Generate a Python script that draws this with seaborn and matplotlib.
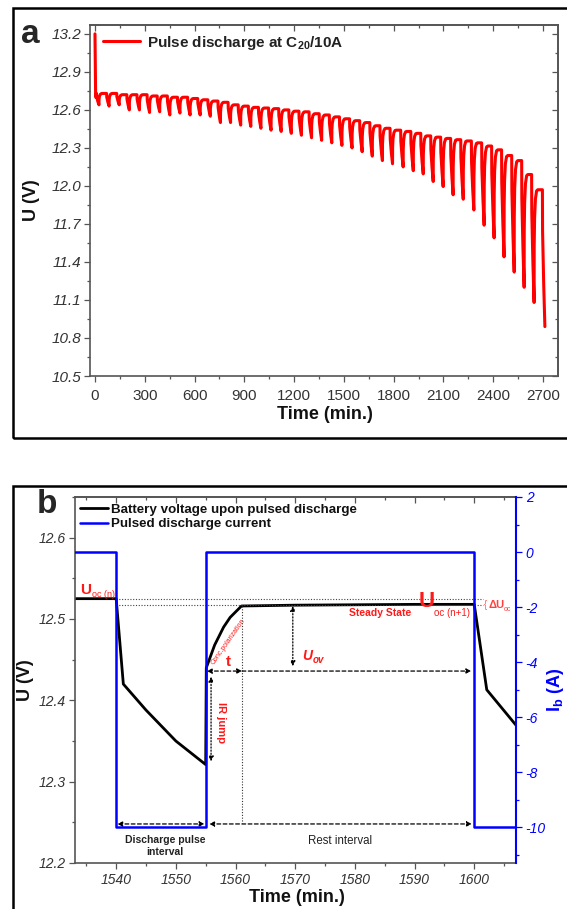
import numpy as np
import pandas as pd
import matplotlib
matplotlib.use("Agg")
import matplotlib.pyplot as plt
import seaborn as sns
from matplotlib.patches import Rectangle
from matplotlib.lines import Line2D
from matplotlib.ticker import MultipleLocator, NullFormatter

# ---------------- Panel a data ----------------
a_start_time = [0.0, 4.0]
a_start_volt = [13.2, 12.70]
pulse_dip_time = [24, 85, 146, 207, 268, 329, 390, 451, 512, 573,
                  634, 695, 756, 817, 878, 939, 1000, 1061, 1122, 1183,
                  1244, 1305, 1366, 1427, 1488, 1549, 1610, 1671, 1732, 1793,
                  1857, 1918, 1978, 2038, 2098, 2158, 2219, 2283, 2345, 2405,
                  2465, 2526, 2586, 2646, 2711]
pulse_top_volt = [12.73, 12.73, 12.73, 12.72, 12.72, 12.72, 12.71, 12.71, 12.70, 12.70,
                  12.69, 12.68, 12.67, 12.66, 12.64, 12.63, 12.62, 12.615, 12.61, 12.60,
                  12.59, 12.585, 12.57, 12.56, 12.545, 12.53, 12.515, 12.50, 12.475, 12.455,
                  12.44, 12.43, 12.415, 12.395, 12.385, 12.375, 12.365, 12.355, 12.34, 12.315,
                  12.285, 12.24, 12.20, 12.09, 11.97]
pulse_dip_volt = [12.64, 12.63, 12.64, 12.60, 12.60, 12.58, 12.585, 12.56, 12.575, 12.56,
                  12.56, 12.55, 12.50, 12.50, 12.48, 12.47, 12.455, 12.44, 12.43, 12.415,
                  12.40, 12.38, 12.36, 12.34, 12.32, 12.30, 12.27, 12.235, 12.20, 12.175,
                  12.15, 12.12, 12.095, 12.035, 11.995, 11.93, 11.895, 11.81, 11.69, 11.59,
                  11.44, 11.32, 11.20, 11.08, 10.89]
a_xticks = [0, 300, 600, 900, 1200, 1500, 1800, 2100, 2400, 2700]
a_yticks = [10.5, 10.8, 11.1, 11.4, 11.7, 12.0, 12.3, 12.6, 12.9, 13.2]
a_legend = "Pulse discharge at C$_{20}$/10A"

# ---------------- Panel b data ----------------
volt_time = [1533.1, 1540.0, 1541.2, 1545.0, 1550.0, 1555.0, 1555.1, 1556.5, 1558.0,
             1559.1, 1561.0, 1570.0, 1590.0, 1600.0, 1602.1, 1607.5]
volt_value = [12.525, 12.525, 12.420, 12.388, 12.350, 12.321, 12.440, 12.468, 12.490,
              12.502, 12.516, 12.517, 12.518, 12.518, 12.413, 12.365]
curr_time = [1533.1, 1540.0, 1540.0, 1555.0, 1555.0, 1600.0, 1600.0, 1608.0]
curr_value = [0, 0, -10, -10, 0, 0, -10, -10]
b_xticks = [1540, 1550, 1560, 1570, 1580, 1590, 1600]
b_yticks = [12.2, 12.3, 12.4, 12.5, 12.6]
b_y2ticks = [-10, -8, -6, -4, -2, 0, 2]
b_legend = ["Battery voltage upon pulsed discharge", "Pulsed discharge current"]

# ---------------- build the pulse waveform ----------------
ta = list(a_start_time)
va = list(a_start_volt)
n = len(pulse_dip_time)
for i in range(n):
    td, top, dip = pulse_dip_time[i], pulse_top_volt[i], pulse_dip_volt[i]
    ts = td - 15
    d = top - dip
    ta += [ts, ts + 1.0, ts + 8.0, td]
    va += [top, top - 0.3 * d, top - 0.7 * d, dip]
    if i + 1 < n:
        nxt = pulse_top_volt[i + 1]
        r = nxt - dip
        ta += [td + 0.5, td + 3.0, td + 8.0, td + 15.0, td + 22.0]
        va += [dip + 0.5 * r, dip + 0.75 * r, dip + 0.92 * r, dip + 0.99 * r, nxt]
df_a = pd.DataFrame({"t": ta, "U": va})
df_bv = pd.DataFrame({"t": volt_time, "U": volt_value})
df_bi = pd.DataFrame({"t": curr_time, "I": curr_value})

# ---------------- style ----------------
sns.set_theme(style="ticks")
plt.rcParams["font.family"] = ["Liberation Sans", "DejaVu Sans"]
plt.rcParams["mathtext.fontset"] = "custom"
plt.rcParams["mathtext.rm"] = "Liberation Sans:bold"
plt.rcParams["mathtext.default"] = "rm"

W, H = 567, 909
fig = plt.figure(figsize=(W / 100, H / 100), dpi=100)

def fx(x):
    return x / W

def fy(y):
    return 1 - y / H

SPC = "#555555"
LBC = "#333333"

# frames
fig.patches.append(Rectangle((fx(13), fy(438)), fx(W + 20) - fx(13), fy(8) - fy(438),
                             transform=fig.transFigure, fill=False, lw=1.8, ec="black"))
fig.patches.append(Rectangle((fx(13), fy(915)), fx(W + 20) - fx(13), fy(486) - fy(915),
                             transform=fig.transFigure, fill=False, lw=1.8, ec="black"))

# ================= Panel a =================
axa = fig.add_axes([fx(90), fy(376), fx(558) - fx(90), fy(25) - fy(376)])
sns.lineplot(data=df_a, x="t", y="U", ax=axa, color="#ff0000", lw=2.2,
             sort=False, estimator=None, legend=False)
axa.set_xlim(-30, 2790)
axa.set_ylim(10.5, 13.27)
axa.set_xticks(a_xticks)
axa.set_yticks(a_yticks)
axa.xaxis.set_minor_locator(MultipleLocator(150))
axa.yaxis.set_minor_locator(MultipleLocator(0.15))
axa.set_yticklabels([f"{v:.1f}" for v in a_yticks], fontstyle="italic")
axa.set_xlabel("")
axa.set_ylabel("")
for s in axa.spines.values():
    s.set_color(SPC)
    s.set_linewidth(1.2)
axa.tick_params(which="major", direction="out", length=4, width=0.9, color=SPC,
                labelcolor=LBC, labelsize=11, pad=2)
axa.tick_params(axis="x", which="major", pad=5)
axa.tick_params(which="minor", direction="out", length=2.5, width=0.9, color=SPC)
sec_top = axa.secondary_xaxis("top")
sec_top.set_xticks(a_xticks)
sec_top.xaxis.set_minor_locator(MultipleLocator(150))
sec_top.xaxis.set_major_formatter(NullFormatter())
sec_top.tick_params(which="major", direction="in", length=4, width=0.9, color=SPC)
sec_top.tick_params(which="minor", direction="in", length=2.5, width=0.9, color=SPC)
sec_top.spines["top"].set_color(SPC)
sec_right = axa.secondary_yaxis("right")
sec_right.set_yticks(a_yticks)
sec_right.yaxis.set_minor_locator(MultipleLocator(0.15))
sec_right.yaxis.set_major_formatter(NullFormatter())
sec_right.tick_params(which="major", direction="in", length=4, width=0.9, color=SPC)
sec_right.tick_params(which="minor", direction="in", length=2.5, width=0.9, color=SPC)
sec_right.spines["right"].set_color(SPC)

leg = axa.legend([Line2D([0], [0], color="#ff0000", lw=2.2)], [a_legend],
                 loc="upper left", bbox_to_anchor=(0.028, 0.975), frameon=False,
                 borderpad=0, borderaxespad=0, handlelength=2.4, handletextpad=0.45,
                 prop={"weight": "bold", "size": 11})
for t in leg.get_texts():
    t.set_color("#222222")

fig.text(fx(21), fy(43), "a", fontsize=24, fontweight="bold", ha="left", va="baseline")
fig.text(fx(32), fy(200), "U (V)", fontsize=13, fontweight="bold", rotation=90,
         ha="center", va="center", color="#111111")
fig.text(fx(325), fy(415), "Time (min.)", fontsize=13, fontweight="bold",
         ha="center", va="center", color="#111111")

# ================= Panel b =================
axb = fig.add_axes([fx(75), fy(863), fx(516) - fx(75), fy(497) - fy(863)])
sns.lineplot(data=df_bv, x="t", y="U", ax=axb, color="black", lw=2.0,
             sort=False, estimator=None, legend=False)
axb.set_xlim(1533.1, 1607)
axb.set_ylim(12.2, 12.65)
axb.set_xticks(b_xticks)
axb.set_yticks(b_yticks)
axb.xaxis.set_minor_locator(MultipleLocator(5))
axb.yaxis.set_minor_locator(MultipleLocator(0.05))
axb.set_xticklabels([str(v) for v in b_xticks], fontstyle="italic")
axb.set_yticklabels([f"{v:.1f}" for v in b_yticks], fontstyle="italic")
axb.set_xlabel("")
axb.set_ylabel("")
for s in axb.spines.values():
    s.set_color(SPC)
    s.set_linewidth(1.2)
axb.tick_params(which="major", direction="out", length=4, width=0.9, color=SPC,
                labelcolor=LBC, labelsize=10, pad=3)
axb.tick_params(which="minor", direction="out", length=2.5, width=0.9, color=SPC)
secb_top = axb.secondary_xaxis("top")
secb_top.set_xticks(b_xticks)
secb_top.xaxis.set_minor_locator(MultipleLocator(5))
secb_top.xaxis.set_major_formatter(NullFormatter())
secb_top.tick_params(which="major", direction="in", length=4, width=0.9, color=SPC)
secb_top.tick_params(which="minor", direction="in", length=2.5, width=0.9, color=SPC)
secb_top.spines["top"].set_color(SPC)

ax2 = axb.twinx()
sns.lineplot(data=df_bi, x="t", y="I", ax=ax2, color="#0000ff", lw=1.8,
             sort=False, estimator=None, legend=False)
ax2.set_ylim(-11.3, 2)
ax2.set_yticks(b_y2ticks)
ax2.yaxis.set_minor_locator(MultipleLocator(1))
ax2.set_yticklabels([str(v) for v in b_y2ticks], fontstyle="italic")
ax2.set_ylabel("")
ax2.set_xlabel("")
ax2.spines["right"].set_color("#0000ff")
ax2.spines["right"].set_linewidth(1.5)
ax2.spines["left"].set_visible(False)
ax2.spines["top"].set_visible(False)
ax2.spines["bottom"].set_visible(False)
ax2.tick_params(axis="y", which="major", direction="out", length=4, width=0.9,
                color="#0000ff", labelcolor="#0000ff", labelsize=10, pad=3)
ax2.tick_params(axis="y", which="minor", direction="out", length=2.5, width=0.9,
                color="#0000ff")
axb.spines["right"].set_visible(False)

legb = axb.legend([Line2D([0], [0], color="black", lw=2.0),
                   Line2D([0], [0], color="#0000ff", lw=1.8)], b_legend,
                  loc="upper left", bbox_to_anchor=(0.011, 0.982), frameon=False,
                  borderpad=0, borderaxespad=0, handlelength=2.1, handletextpad=0.25,
                  labelspacing=0.15, prop={"weight": "bold", "size": 9.6})
for t in legb.get_texts():
    t.set_color("#111111")

fig.text(fx(37), fy(513), "b", fontsize=24, fontweight="bold", ha="left", va="baseline")
fig.text(fx(25), fy(680), "U (V)", fontsize=13, fontweight="bold", rotation=90,
         ha="center", va="center", color="#111111")
fig.text(fx(556), fy(690), "I$_{b}$ (A)", fontsize=13, fontweight="bold", rotation=90,
         ha="center", va="center", color="#0000ff")
fig.text(fx(297), fy(897), "Time (min.)", fontsize=13, fontweight="bold",
         ha="center", va="center", color="#111111")

# ---- annotations (panel b) ----
RED = "#ff1a1a"
axb.plot([1540, 1601.5], [12.525, 12.525], ls=(0, (1, 1.5)), lw=0.8, color="#444444")
axb.plot([1540, 1601.5], [12.5175, 12.5175], ls=(0, (1, 1.5)), lw=0.8, color="#444444")
axb.plot([1561.1, 1561.1], [12.516, 12.249], ls=(0, (1, 1.5)), lw=0.8, color="#333333")

def arrow(x0, y0, x1, y1, ls, style="<|-|>"):
    axb.annotate("", xy=(x1, y1), xytext=(x0, y0),
                 arrowprops=dict(arrowstyle=style, linestyle=ls, lw=0.9, color="black",
                                 shrinkA=0, shrinkB=0, mutation_scale=7))

arrow(1555.2, 12.436, 1561.1, 12.436, (0, (3, 2)))
arrow(1561.1, 12.436, 1599.5, 12.436, (0, (3, 2)), style="-|>")
arrow(1569.6, 12.516, 1569.6, 12.442, (0, (1, 1.5)))
arrow(1555.9, 12.429, 1555.9, 12.325, (0, (1, 1.5)))
arrow(1540.2, 12.248, 1554.8, 12.248, (0, (3, 2)))
arrow(1555.6, 12.248, 1599.6, 12.248, (0, (3, 2)))

axb.text(1534.0, 12.531, "U", fontsize=11, fontweight="bold", color=RED,
         ha="left", va="baseline")
axb.text(1536.0, 12.5265, "oc (n)", fontsize=6.5, color=RED, ha="left", va="baseline")
axb.text(1592.0, 12.521, "U", fontsize=16, fontweight="bold", color=RED,
         ha="center", va="center")
axb.text(1593.3, 12.507, "oc (n+1)", fontsize=7, color=RED, ha="left", va="center")
axb.text(1579.0, 12.507, "Steady State", fontsize=7.5, fontweight="bold", color=RED,
         ha="left", va="center")
axb.text(1601.6, 12.517, "{", fontsize=7, color="#ff6060", ha="left", va="center")
axb.text(1602.4, 12.517, "ΔU", fontsize=8, fontweight="bold", color="#ff4040",
         ha="left", va="center")
axb.text(1604.9, 12.512, "oc", fontsize=5, color="#ff4040", ha="left", va="center")
axb.text(1558.8, 12.447, "t", fontsize=11, fontweight="bold", color=RED,
         ha="center", va="center")
axb.text(1571.2, 12.455, "U", fontsize=10, fontweight="bold", fontstyle="italic",
         color=RED, ha="left", va="center")
axb.text(1572.9, 12.450, "ov", fontsize=7, fontweight="bold", fontstyle="italic",
         color=RED, ha="left", va="center")
axb.text(1557.5, 12.373, "IR jump", fontsize=8, fontweight="bold", color=RED,
         rotation=-90, ha="center", va="center")
axb.text(1558.8, 12.472, "Conc.polarization", fontsize=5, color=RED,
         rotation=55, ha="center", va="center")
axb.text(1548.2, 12.221, "Discharge pulse\ninterval", fontsize=7.5, fontweight="bold",
         color="#222222", ha="center", va="center", linespacing=1.3)
axb.text(1577.5, 12.227, "Rest interval", fontsize=8.3, color="#222222",
         ha="center", va="center")

fig.savefig("out.png", dpi=100)
